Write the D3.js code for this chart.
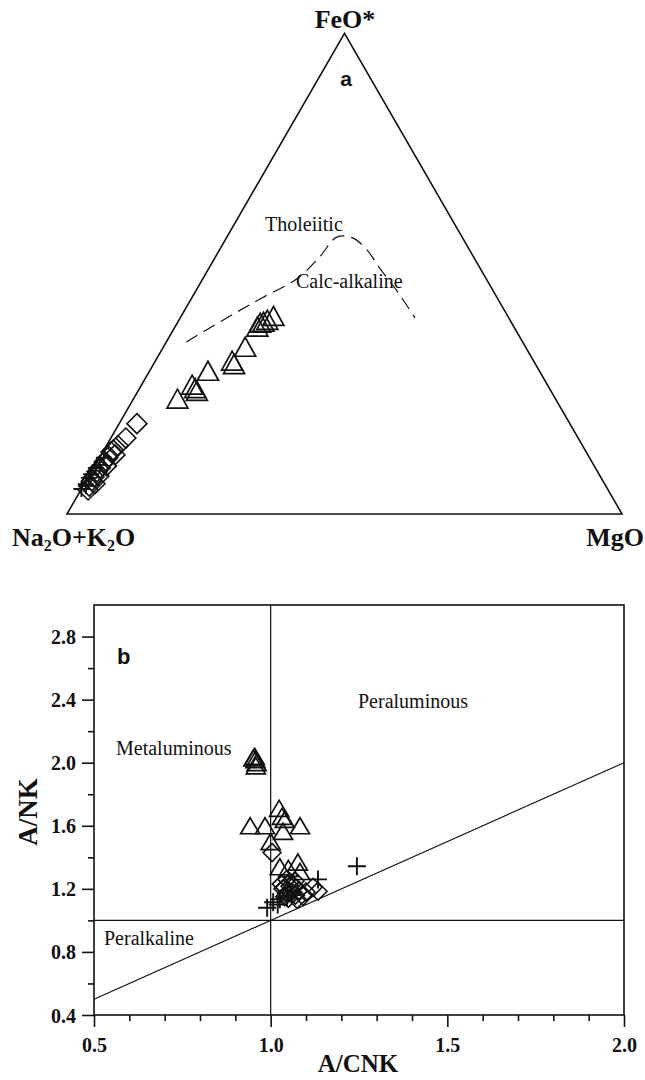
<!DOCTYPE html>
<html>
<head>
<meta charset="utf-8">
<script src="https://cdn.jsdelivr.net/npm/d3@7"></script>
<style>
  body { margin: 0; background: #fff; }
  text { fill: #111; }
</style>
</head>
<body>
<svg id="chart" width="645" height="1080"></svg>
<script>
// ---------- (a) AFM diagram, values in % [Na2O+K2O, FeO*, MgO] ----------
const afmTriangles = [
  [68.1, 24.0, 7.9], [64.0, 26.9, 9.1], [63.8, 26.2, 10.0], [63.8, 25.6, 10.6],
  [59.7, 29.8, 10.5], [54.3, 31.9, 13.8], [54.3, 31.2, 14.5], [50.5, 34.8, 14.7],
  [46.2, 39.0, 14.8], [45.3, 39.8, 14.9], [44.6, 40.0, 15.4], [43.7, 40.4, 15.9],
  [42.2, 41.2, 16.6]
];
const afmDiamonds = [
  [78.0, 18.8, 3.2], [81.5, 15.8, 2.7], [83.7, 14.2, 2.1], [85.0, 13.3, 1.7],
  [85.6, 12.9, 1.5], [85.2, 12.3, 2.5], [86.8, 11.7, 1.5], [87.9, 10.8, 1.3],
  [87.9, 10.0, 2.1], [89.2, 9.6, 1.2], [90.2, 8.8, 1.0], [90.3, 7.9, 1.8],
  [91.3, 7.7, 1.0], [92.1, 6.9, 1.0], [91.8, 6.3, 1.9], [93.1, 5.8, 1.1],
  [93.7, 5.0, 1.3]
];
const afmCrosses = [
  [94.8, 5.2, 0.0], [93.5, 6.2, 0.3], [92.3, 7.5, 0.2], [91.5, 8.3, 0.2],
  [90.0, 9.6, 0.4], [93.7, 5.8, 0.5], [89.0, 10.2, 0.8], [87.5, 11.7, 0.8]
];
// Tholeiitic / calc-alkaline divide
const afmBoundary = [
  [60.6, 35.8, 3.6], [48.6, 41.9, 9.5], [42.3, 45.0, 12.7], [34.0, 49.0, 17.0],
  [27.6, 53.6, 18.8], [22.6, 57.6, 19.8], [19.9, 57.5, 22.6], [18.5, 55.0, 26.5],
  [18.1, 51.2, 30.8], [17.3, 46.0, 36.7], [16.9, 40.8, 42.3]
];

// ---------- (b) A/CNK vs A/NK ----------
const acnkTriangles = [
  [0.955, 2.04], [0.957, 2.02], [0.960, 2.00], [0.958, 1.98], [0.951, 2.03],
  [1.024, 1.71], [1.032, 1.66], [1.040, 1.64], [0.942, 1.60], [0.984, 1.60],
  [1.083, 1.60], [1.035, 1.565], [1.000, 1.50], [1.026, 1.34], [1.077, 1.37],
  [1.083, 1.31], [1.050, 1.33]
];
const acnkDiamonds = [
  [1.004, 1.43], [1.134, 1.185], [1.120, 1.21], [1.092, 1.153], [1.075, 1.134],
  [1.055, 1.216], [1.046, 1.26], [1.060, 1.18], [1.035, 1.20], [1.069, 1.25],
  [1.045, 1.17], [1.050, 1.14], [1.030, 1.23], [1.065, 1.22], [1.040, 1.15],
  [1.080, 1.19], [1.100, 1.18], [1.055, 1.24], [1.070, 1.16], [1.040, 1.21]
];
const acnkCrosses = [
  [1.244, 1.343], [1.134, 1.26], [0.990, 1.08], [1.007, 1.115], [1.026, 1.134],
  [1.046, 1.147], [1.060, 1.16], [1.020, 1.10]
];
const xTickValues = [0.5, 1.0, 1.5, 2.0];
const yTickValues = [0.4, 0.8, 1.2, 1.6, 2.0, 2.4, 2.8];

const svg = d3.select("#chart");
const serif = "'Liberation Serif', 'DejaVu Serif', serif";
const sans = "'Liberation Sans', Arial, sans-serif";

// marker shapes
function triPath(w, h) { return `M0,${-h/2}L${w/2},${h/2}L${-w/2},${h/2}Z`; }
function diaPath(r) { return `M0,${-r}L${r},0L0,${r}L${-r},0Z`; }
function crossPath(r) { return `M${-r},0H${r}M0,${-r}V${r}`; }

// ================= (a) ternary =================
const side = 555;
const left = { x: 67, y: 514 };
const tern = d3.scaleLinear().domain([0, 100]).range([0, side]);
const SQ3 = Math.sqrt(3) / 2;
function proj(d) {
  const s = d[0] + d[1] + d[2];
  const F = d[1] / s * 100, M = d[2] / s * 100;
  return [left.x + tern(M) + tern(F) / 2, left.y - tern(F) * SQ3];
}
const ga = svg.append("g");
ga.append("path")
  .attr("d", d3.line()([proj([100, 0, 0]), proj([0, 100, 0]), proj([0, 0, 100])]) + "Z")
  .attr("fill", "none").attr("stroke", "#111").attr("stroke-width", 1.6);

ga.append("path")
  .attr("d", d3.line().curve(d3.curveCatmullRom)(afmBoundary.map(proj)))
  .attr("fill", "none").attr("stroke", "#111").attr("stroke-width", 1.2)
  .attr("stroke-dasharray", "13,7");

function drawMarks(g, data, pos, path, sw) {
  g.selectAll(null).data(data).enter().append("path")
    .attr("transform", d => { const p = pos(d); return `translate(${p[0]},${p[1]})`; })
    .attr("d", path).attr("fill", "none").attr("stroke", "#111")
    .attr("stroke-width", sw).attr("stroke-linejoin", "miter");
}
drawMarks(ga, afmDiamonds, proj, diaPath(10), 1.6);
drawMarks(ga, afmCrosses, proj, crossPath(8), 1.8);
drawMarks(ga, afmTriangles, proj, triPath(21, 19), 1.7);

ga.append("text").attr("x", 345).attr("y", 28).attr("text-anchor", "middle")
  .style("font", `bold 26px ${serif}`).text("FeO*");
ga.append("text").attr("x", 346).attr("y", 86).attr("text-anchor", "middle")
  .style("font", `bold 21px ${sans}`).text("a");
ga.append("text").attr("x", 265).attr("y", 231)
  .style("font", `20px ${serif}`).text("Tholeiitic");
ga.append("text").attr("x", 296).attr("y", 288)
  .style("font", `20px ${serif}`).text("Calc-alkaline");
const naLab = ga.append("text").attr("x", 12).attr("y", 546)
  .style("font", `bold 26px ${serif}`);
naLab.append("tspan").text("Na");
naLab.append("tspan").attr("dy", 5).style("font-size", "16px").text("2");
naLab.append("tspan").attr("dy", -5).text("O+K");
naLab.append("tspan").attr("dy", 5).style("font-size", "16px").text("2");
naLab.append("tspan").attr("dy", -5).text("O");
ga.append("text").attr("x", 644).attr("y", 546).attr("text-anchor", "end")
  .style("font", `bold 26px ${serif}`).text("MgO");

// ================= (b) A/CNK – A/NK =================
const x = d3.scaleLinear().domain([0.5, 2.0]).range([94, 624]);
const y = d3.scaleLinear().domain([0.4, 3.0]).range([1015, 605]);
const gb = svg.append("g");
const pos = d => [x(d[0]), y(d[1])];

gb.append("rect").attr("x", x(0.5)).attr("y", y(3.0))
  .attr("width", x(2.0) - x(0.5)).attr("height", y(0.4) - y(3.0))
  .attr("fill", "none").attr("stroke", "#111").attr("stroke-width", 1.6);

// boundaries
gb.append("line").attr("x1", x(1)).attr("x2", x(1)).attr("y1", y(0.4)).attr("y2", y(3.0))
  .attr("stroke", "#111").attr("stroke-width", 1.2);
gb.append("line").attr("x1", x(0.5)).attr("x2", x(2)).attr("y1", y(1)).attr("y2", y(1))
  .attr("stroke", "#111").attr("stroke-width", 1.2);
gb.append("line").attr("x1", x(0.5)).attr("x2", x(2)).attr("y1", y(0.5)).attr("y2", y(2))
  .attr("stroke", "#111").attr("stroke-width", 1.2);

// axes
const xMinor = d3.range(6, 20).map(v => v / 10).filter(v => !xTickValues.includes(Math.round(v * 10) / 10));
const xAxis = gb.append("g").attr("transform", `translate(0,${y(0.4)})`);
xAxis.call(d3.axisBottom(x).tickValues(xTickValues).tickFormat(d3.format(".1f")).tickSize(12).tickSizeOuter(0));
xAxis.append("g").call(d3.axisBottom(x).tickValues(xMinor).tickFormat("").tickSize(6).tickSizeOuter(0));
const yMinor = [0.6, 1.0, 1.4, 1.8, 2.2, 2.6];
const yAxis = gb.append("g").attr("transform", `translate(${x(0.5)},0)`);
yAxis.call(d3.axisLeft(y).tickValues(yTickValues).tickFormat(d3.format(".1f")).tickSize(12).tickSizeOuter(0));
yAxis.append("g").call(d3.axisLeft(y).tickValues(yMinor).tickFormat("").tickSize(6).tickSizeOuter(0));
gb.selectAll(".domain").remove();
gb.selectAll(".tick line").attr("stroke", "#111").attr("stroke-width", 1.6);
xAxis.selectAll(".tick text").style("font", `bold 20px ${serif}`).attr("dy", "1.25em").attr("y", 12);
yAxis.selectAll(".tick text").style("font", `bold 20px ${serif}`).attr("x", -18).attr("dy", "0.35em");

drawMarks(gb, acnkDiamonds, pos, diaPath(9), 1.6);
drawMarks(gb, acnkCrosses, pos, crossPath(9), 1.9);
drawMarks(gb, acnkTriangles, pos, triPath(19, 16), 1.7);

gb.append("text").attr("x", 117).attr("y", 664)
  .style("font", `bold 22px ${sans}`).text("b");
gb.append("text").attr("x", 116).attr("y", 755)
  .style("font", `20px ${serif}`).text("Metaluminous");
gb.append("text").attr("x", 358).attr("y", 708)
  .style("font", `20px ${serif}`).text("Peraluminous");
gb.append("text").attr("x", 104).attr("y", 945)
  .style("font", `20px ${serif}`).text("Peralkaline");
gb.append("text").attr("x", 358).attr("y", 1072).attr("text-anchor", "middle")
  .style("font", `bold 25px ${serif}`).text("A/CNK");
gb.append("text").attr("transform", "translate(37,812) rotate(-90)").attr("text-anchor", "middle")
  .style("font", `bold 27px ${serif}`).text("A/NK");
</script>
</body>
</html>
